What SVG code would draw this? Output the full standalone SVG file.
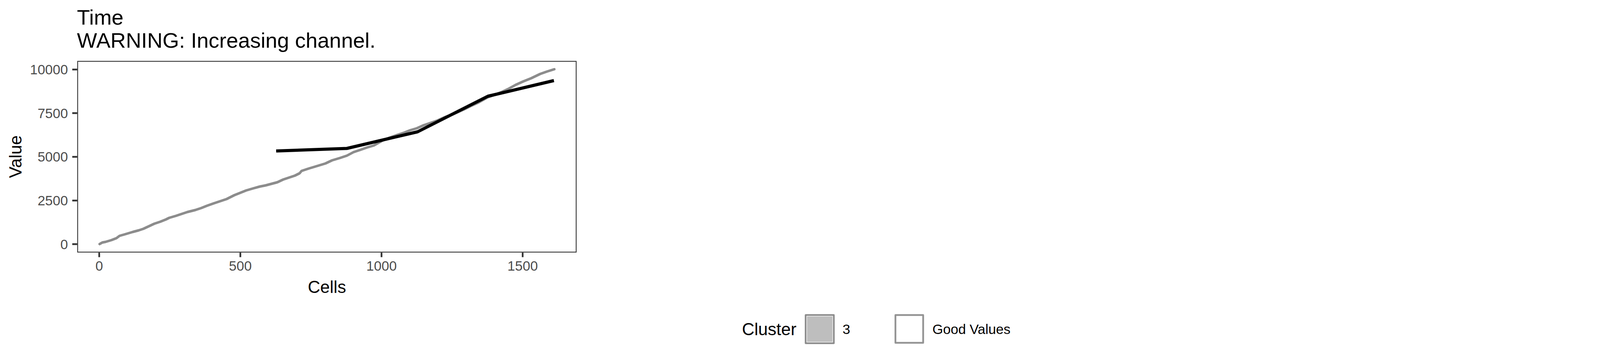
<svg xmlns="http://www.w3.org/2000/svg" width="4500" height="900" viewBox="0 0 4500 900">
<style>
text{font-family:"Liberation Sans",Arial,sans-serif}
.title{font-size:54.5px;fill:#000}
.axt{font-size:44px;fill:#000}
.tick{font-size:35px;fill:#4D4D4D}
.tk{stroke:#333333;stroke-width:4.4;fill:none}
.leg{font-size:35px;fill:#000}
</style>
<rect x="0" y="0" width="4500" height="900" fill="#FFFFFF"/>
<g id="title">
<text class="title" x="197" y="62.5">Time</text>
<text class="title" x="197" y="122">WARNING: Increasing channel.</text>
</g>
<g id="panel">
<rect x="198.8" y="156.8" width="1276.2" height="487.8" fill="#FFFFFF" stroke="#333333" stroke-width="2.2"/>
</g>
<g id="y-axis">
<path class="tk" d="M185 177.7H197.7M185 289.3H197.7M185 401H197.7M185 512.7H197.7M185 624.3H197.7"/>
<text class="tick" x="174" y="190" text-anchor="end">10000</text>
<text class="tick" x="174" y="301.7" text-anchor="end">7500</text>
<text class="tick" x="174" y="413.3" text-anchor="end">5000</text>
<text class="tick" x="174" y="525" text-anchor="end">2500</text>
<text class="tick" x="174" y="636.7" text-anchor="end">0</text>
<text class="axt" x="55" y="400.7" text-anchor="middle" transform="rotate(-90 55 400.7)">Value</text>
</g>
<g id="x-axis">
<path class="tk" d="M254 645.7V657.5M615.3 645.7V657.5M976.7 645.7V657.5M1338 645.7V657.5"/>
<text class="tick" x="254" y="691.7" text-anchor="middle">0</text>
<text class="tick" x="615.3" y="691.7" text-anchor="middle">500</text>
<text class="tick" x="976.7" y="691.7" text-anchor="middle">1000</text>
<text class="tick" x="1338" y="691.7" text-anchor="middle">1500</text>
<text class="axt" x="837" y="749" text-anchor="middle">Cells</text>
</g>
<g id="connectors">
<polyline id="values" fill="none" stroke="#8C8C8C" stroke-width="6.5" stroke-linecap="round" stroke-linejoin="round" points="255,624 262,620 270,618.5 285,614 298,609 306,603 320,599 340,593 355,589 367,585 380,579 395,572 410,567 425,561 433,557 450,552 465,547 480,542 500,537 515,532 530,526 547,520 565,514 580,509 600,499 615,493 630,487 647,482 665,477 680,474 695,470 710,466 725,459 740,454 755,449 767,443 772,437 790,431 810,425 833,418 850,410 870,404 888,398 905,389 920,384 940,377 957,372 980,359 1000,351 1020,344 1035,339 1050,333 1067,328 1085,320 1100,315 1120,308 1140,299 1160,292 1187,280 1205,271 1225,262 1248,249 1265,243 1285,235 1300,228 1320,217 1340,208 1360,200 1383,189 1400,183 1419,177"/>
<polyline id="fit" fill="none" stroke="#000000" stroke-width="8" stroke-linecap="butt" stroke-linejoin="round" points="707,386 888,379.5 1069,337 1249,246 1418,206"/>
</g>
<g id="legend">
<text class="axt" x="1899.5" y="856.7">Cluster</text>
<g id="key-3">
<rect x="2062.5" y="805.5" width="72" height="72" fill="#BEBEBE" stroke="#8C8C8C" stroke-width="4.5" stroke-linejoin="round"/>
<rect x="2065.3" y="808.3" width="66.4" height="66.4" fill="none" stroke="#FFFFFF" stroke-width="1.3"/>
<text class="leg" x="2157" y="853.5">3</text>
</g>
<g id="key-good">
<rect x="2292.3" y="805.5" width="71" height="71" fill="#FFFFFF" stroke="#939393" stroke-width="4.5" stroke-linejoin="round"/>
<text class="leg" x="2387" y="853.5">Good Values</text>
</g>
</g>
</svg>
